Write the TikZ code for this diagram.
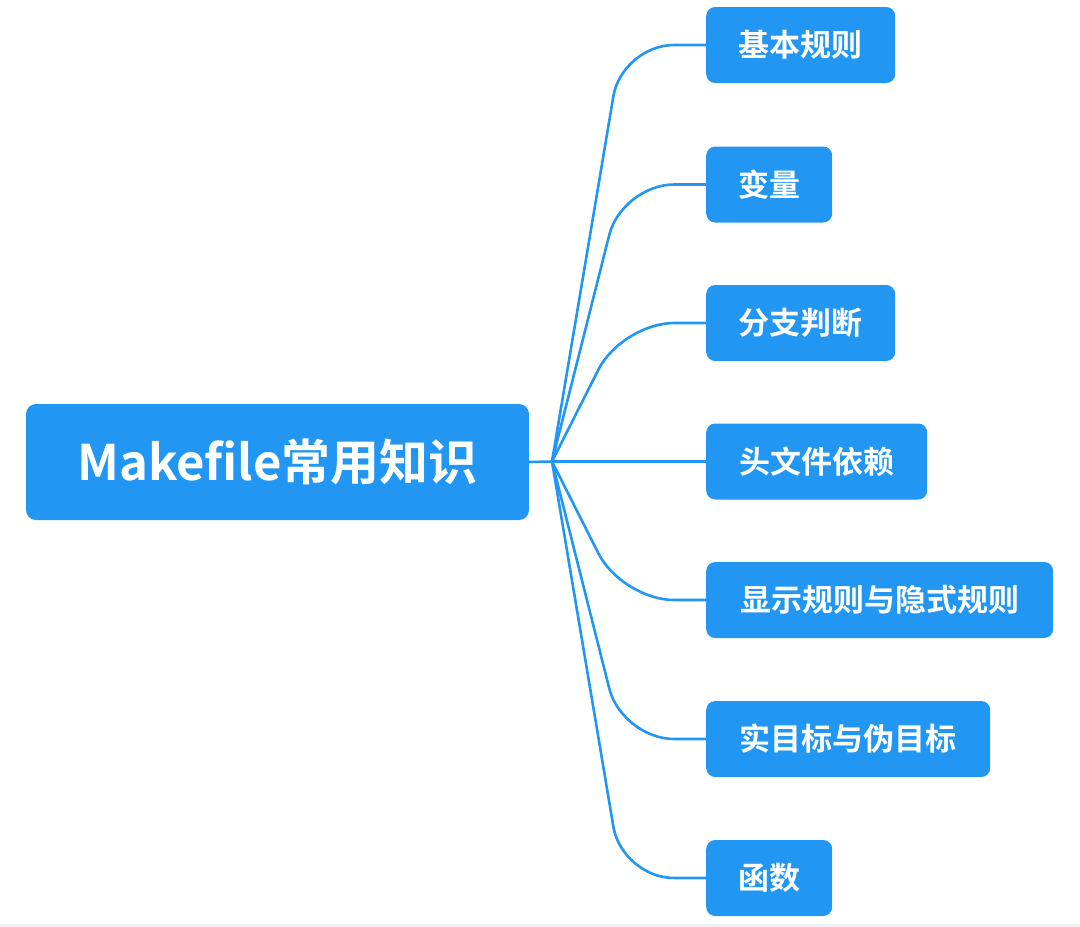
\documentclass[tikz,border=0pt]{standalone}
\usepackage{fontspec}
\newfontfamily\cjk{Noto Sans CJK SC Bold}
\definecolor{mblue}{RGB}{33,150,243}
\definecolor{band}{RGB}{240,240,240}
\tikzset{
  rootbox/.style={fill=mblue, draw=none, rounded corners=10pt, text=white, font=\cjk\fontsize{49pt}{53pt}\selectfont, minimum height=116pt, minimum width=503pt, inner sep=0pt},
  leafbox/.style={fill=mblue, draw=none, rounded corners=9pt, text=white, font=\cjk\fontsize{31pt}{34pt}\selectfont, minimum height=76pt, inner sep=0pt, anchor=west},
  conn/.style={draw=mblue, line width=2.6pt, rounded corners=52pt},
}
\begin{document}
\begin{tikzpicture}[x=1pt,y=-1pt]
\useasboundingbox (0,0) rectangle (1080,927);
\fill[band] (0,924) rectangle (1080,927);
\node[rootbox] (root) at (277.5,462) {Makefile常用知识};
\coordinate (hub) at (552,461.5);
\coordinate (k) at (622,0);
\node[leafbox, minimum width=189pt] (c1) at (706,45) {基本规则};
\node[leafbox, minimum width=126pt] (c2) at (706,184.5) {变量};
\node[leafbox, minimum width=189pt] (c3) at (706,323) {分支判断};
\node[leafbox, minimum width=221pt] (c4) at (706,461.5) {头文件依赖};
\node[leafbox, minimum width=347pt] (c5) at (706,600) {显示规则与隐式规则};
\node[leafbox, minimum width=284pt] (c6) at (706,739) {实目标与伪目标};
\node[leafbox, minimum width=126pt] (c7) at (706,878) {函数};
\draw[conn] (root.east) -- (hub);
\foreach \c in {c1,c2,c3,c5,c6,c7}{
  \draw[conn] (hub) -- (k |- \c.west) -- (\c.west);
}
\draw[conn] (hub) -- (c4.west);
\end{tikzpicture}
\end{document}
